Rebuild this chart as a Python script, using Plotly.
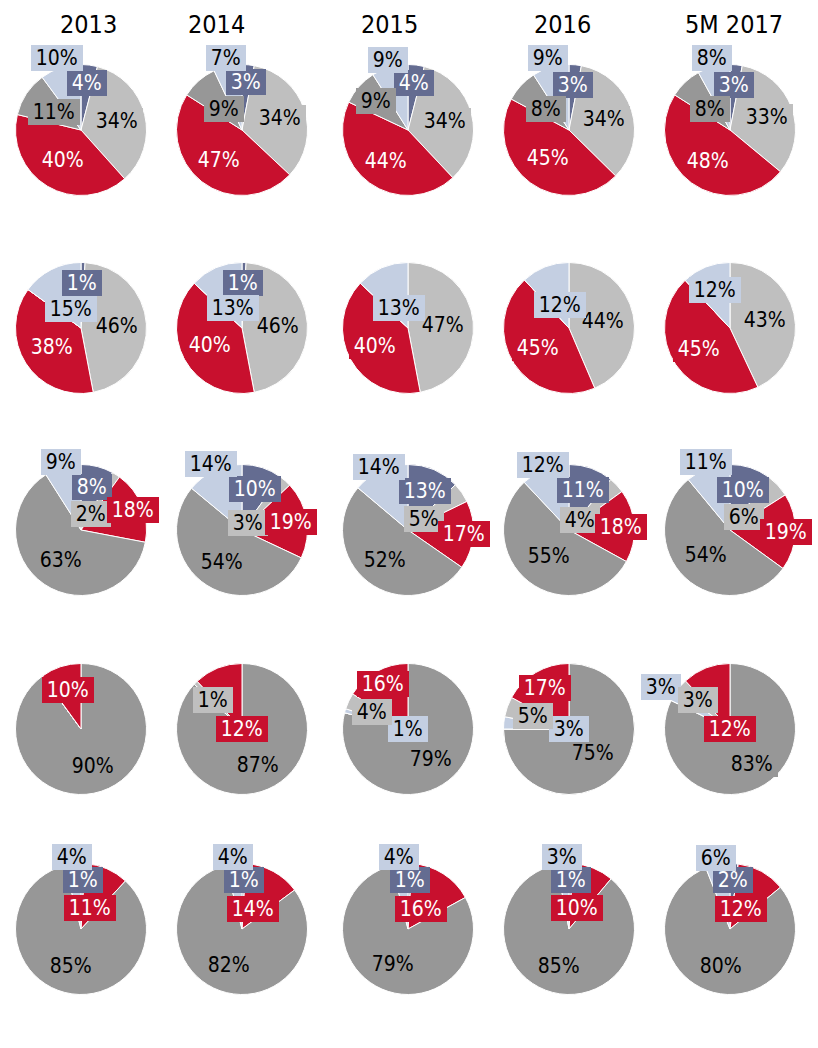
import math
import plotly.graph_objects as go

# ---------------- data ----------------
YEARS = ["2013", "2014", "2015", "2016", "5M 2017"]

# category keys (A = slate blue, B = light grey, C = red, D = dark grey, E = light blue)
R1_A = [4, 3, 4, 3, 3]
R1_B = [34, 34, 34, 34, 33]
R1_C = [40, 47, 44, 45, 48]
R1_D = [11, 9, 9, 8, 8]
R1_E = [10, 7, 9, 9, 8]

R2_A = [1, 1, 0, 0, 0]
R2_B = [46, 46, 47, 44, 43]
R2_C = [38, 40, 40, 45, 45]
R2_D = [0, 0, 0, 0, 0]
R2_E = [15, 13, 13, 12, 12]

R3_A = [8, 10, 13, 11, 10]
R3_B = [2, 3, 5, 4, 6]
R3_C = [18, 19, 17, 18, 19]
R3_D = [63, 54, 52, 55, 54]
R3_E = [9, 14, 14, 12, 11]

R4_A = [0, 0, 0, 0, 0]
R4_B = [0, 1, 4, 5, 3]
R4_C = [10, 12, 16, 17, 12]
R4_D = [90, 87, 79, 75, 83]
R4_E = [0, 0, 1, 3, 3]

R5_A = [1, 1, 1, 1, 2]
R5_B = [0, 0, 0, 0, 0]
R5_C = [11, 14, 16, 10, 12]
R5_D = [85, 82, 79, 85, 80]
R5_E = [4, 4, 4, 3, 6]

# ---------------- styling / layout ----------------
W, H = 818, 1048
FONT = "DejaVu Sans Condensed, DejaVu Sans, sans-serif"
COLORS = {"A": "#646C91", "B": "#BFBFBF", "C": "#C8102E", "D": "#979797", "E": "#C4CFE2"}
TEXT_COLORS = {"A": "white", "B": "black", "C": "white", "D": "black", "E": "black"}
PAD = "\u2009"

COL_CX = [81, 242, 408, 569, 730]
ROW_CY = [130, 328, 530, 729, 929]
RADIUS = 65.5
TITLE_X = [88, 216, 389, 562, 734]
TITLE_Y = 24

STD_ORDER = ["A", "B", "C", "D", "E"]
ROWS = [
    {"order": STD_ORDER, "series": {"A": R1_A, "B": R1_B, "C": R1_C, "D": R1_D, "E": R1_E},
     "label_r": {"A": [0.73, 0.73, 0.73, 0.69, 0.69], "B": [0.57, 0.61, 0.58, 0.56, 0.60],
                 "C": [0.54, 0.57, 0.58, 0.54, 0.58], "D": [0.50, 0.42, 0.66, 0.48, 0.45],
                 "E": [1.16, 1.12, 1.12, 1.14, 1.13]}},
    {"order": STD_ORDER, "series": {"A": R2_A, "B": R2_B, "C": R2_C, "D": R2_D, "E": R2_E},
     "label_r": {"A": [0.68, 0.68, 0.68, 0.68, 0.68], "B": [0.55, 0.55, 0.53, 0.53, 0.54],
                 "C": [0.53, 0.55, 0.58, 0.57, 0.57], "D": [0.5] * 5,
                 "E": [0.32, 0.33, 0.33, 0.37, 0.62]}},
    {"order": STD_ORDER, "series": {"A": R3_A, "B": R3_B, "C": R3_C, "D": R3_D, "E": R3_E},
     "label_r": {"A": [0.68, 0.66, 0.65, 0.65, 0.64], "B": [0.29, 0.14, 0.30, 0.23, 0.29],
                 "C": [0.85, 0.76, 0.86, 0.80, 0.85], "D": [0.55, 0.57, 0.57, 0.50, 0.53],
                 "E": [1.08, 1.11, 1.06, 1.07, 1.10]}},
    {"order": ["D", "A", "E", "B", "C"], "series": {"A": R4_A, "B": R4_B, "C": R4_C, "D": R4_D, "E": R4_E},
     "label_r": {"A": [0.5] * 5, "B": [0.63, 0.63, 0.61, 0.59, 0.66],
                 "C": [0.62, 0.0, 0.79, 0.73, 0.0], "D": [0.60, 0.60, 0.58, 0.52, 0.63],
                 "E": [0.0, 0.0, 0.0, 0.0, 1.23]}},
    {"order": STD_ORDER, "series": {"A": R5_A, "B": R5_B, "C": R5_C, "D": R5_D, "E": R5_E},
     "label_r": {"A": [0.75] * 5, "B": [0.5] * 5,
                 "C": [0.35, 0.35, 0.37, 0.34, 0.35], "D": [0.59, 0.58, 0.59, 0.59, 0.58],
                 "E": [1.11] * 5}},
]

fig = go.Figure()
annotations = []

for ri, row in enumerate(ROWS):
    cy = ROW_CY[ri]
    for ci, year in enumerate(YEARS):
        cx = COL_CX[ci]
        order = row["order"]
        vals = [row["series"][c][ci] for c in order]
        fig.add_trace(go.Pie(
            values=vals, labels=order, sort=False, direction="clockwise", rotation=0,
            marker=dict(colors=[COLORS[c] for c in order], line=dict(color="white", width=1)),
            textinfo="none", textposition="none", hoverinfo="label+value", showlegend=False,
            domain=dict(x=[(cx - RADIUS) / W, (cx + RADIUS) / W],
                        y=[1 - (cy + RADIUS) / H, 1 - (cy - RADIUS) / H]),
        ))
        total = float(sum(vals))
        cum = 0.0
        for c, v in zip(order, vals):
            if v > 0:
                ang = math.radians((cum + v / 2.0) / total * 360.0)
                rr = row["label_r"][c][ci] * RADIUS
                x = round(cx + rr * math.sin(ang))
                y = round(cy - rr * math.cos(ang))
                annotations.append(dict(
                    x=x / W, y=1 - y / H, xref="paper", yref="paper",
                    text=f"{PAD}{v}%{PAD}", showarrow=False, xanchor="center", yanchor="middle",
                    bgcolor=COLORS[c], bordercolor=COLORS[c], borderpad=0, borderwidth=1,
                    font=dict(family=FONT, size=21, color=TEXT_COLORS[c]),
                ))
            cum += v

for ci, year in enumerate(YEARS):
    annotations.append(dict(
        x=TITLE_X[ci] / W, y=1 - TITLE_Y / H, xref="paper", yref="paper",
        text=year, showarrow=False, xanchor="center", yanchor="middle",
        font=dict(family=FONT, size=25, color="black"),
    ))

fig.update_layout(
    width=W, height=H, margin=dict(l=0, r=0, t=0, b=0),
    paper_bgcolor="white", plot_bgcolor="white",
    annotations=annotations,
)

fig.write_html(
    "out.html",
    config={"displayModeBar": False},
    post_script="document.body.style.margin='0';document.documentElement.style.overflow='hidden';",
)
